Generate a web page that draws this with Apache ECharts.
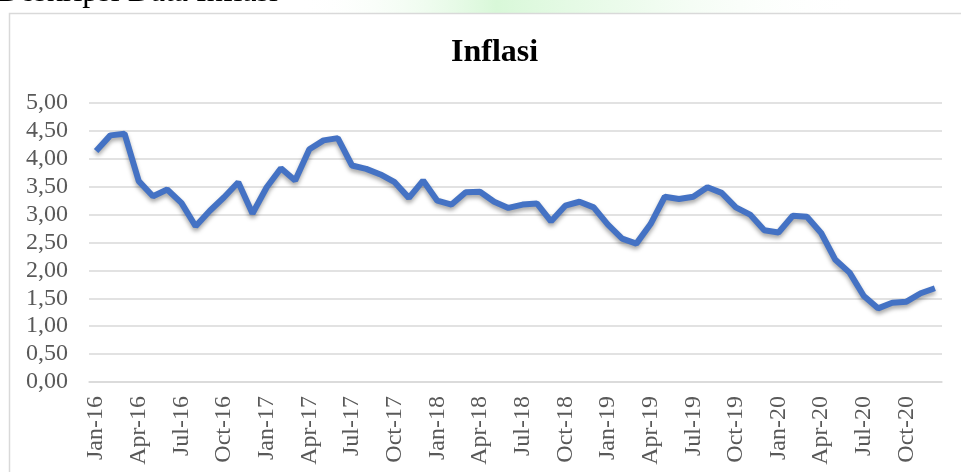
<!DOCTYPE html>
<html>
<head>
<meta charset="utf-8">
<title>Inflasi</title>
<script src="https://cdn.jsdelivr.net/npm/echarts@6/dist/echarts.min.js"></script>
<style>
  html, body { margin: 0; padding: 0; background: #fff; }
  #chart { width: 961px; height: 472px; }
</style>
</head>
<body>
<div id="chart"></div>
<script>
// bulan & tahun untuk label sumbu x
var bulan = ['Jan', 'Feb', 'Mar', 'Apr', 'May', 'Jun', 'Jul', 'Aug', 'Sep', 'Oct', 'Nov', 'Dec'];
var tahun = ['16', '17', '18', '19', '20'];

// inflasi (%) per tahun
var inflasi16 = [4.14, 4.42, 4.45, 3.60, 3.33, 3.45, 3.21, 2.79, 3.07, 3.31, 3.58, 3.02];
var inflasi17 = [3.49, 3.83, 3.61, 4.17, 4.33, 4.37, 3.88, 3.82, 3.72, 3.58, 3.30, 3.61];
var inflasi18 = [3.25, 3.18, 3.40, 3.41, 3.23, 3.12, 3.18, 3.20, 2.88, 3.16, 3.23, 3.13];
var inflasi19 = [2.82, 2.57, 2.48, 2.83, 3.32, 3.28, 3.32, 3.49, 3.39, 3.13, 3.00, 2.72];
var inflasi20 = [2.68, 2.98, 2.96, 2.67, 2.19, 1.96, 1.54, 1.32, 1.42, 1.44, 1.59, 1.68];

var kategori = [];
tahun.forEach(function (t) {
  bulan.forEach(function (b) { kategori.push(b + '-' + t); });
});
var nilai = [].concat(inflasi16, inflasi17, inflasi18, inflasi19, inflasi20);

var myChart = echarts.init(document.getElementById('chart'));
var option = {
  backgroundColor: '#fff',
  animation: false,
  textStyle: { fontFamily: 'Liberation Serif' },
  title: {
    text: 'Inflasi',
    left: 446,
    top: 32,
    textStyle: { fontFamily: 'Liberation Serif', fontSize: 32, fontWeight: 'bold', color: '#000' }
  },
  graphic: [
    {
      type: 'rect', silent: true, z: -1,
      shape: { x: 300, y: 0, width: 560, height: 13 },
      style: {
        fill: new echarts.graphic.LinearGradient(0, 0, 1, 0, [
          { offset: 0, color: 'rgba(255,255,255,0)' },
          { offset: 0.35, color: 'rgba(200,245,200,0.7)' },
          { offset: 0.6, color: 'rgba(220,248,220,0.5)' },
          { offset: 1, color: 'rgba(255,255,255,0)' }
        ])
      }
    },
    {
      type: 'text', silent: true,
      left: -3, top: -23,
      style: { text: 'Deskripsi Data Inflasi', font: '32px "Liberation Serif"', fill: '#000' }
    },
    {
      type: 'rect', silent: true,
      shape: { x: 9.5, y: 13.5, width: 1000, height: 500 },
      style: { fill: 'none', stroke: '#d9d9d9', lineWidth: 1.5 }
    }
  ],
  grid: { left: 89, right: 19, top: 103, bottom: 90, containLabel: false },
  xAxis: {
    type: 'category',
    data: kategori,
    boundaryGap: true,
    axisLine: { show: true, lineStyle: { color: '#d9d9d9', width: 1.5 } },
    axisTick: { show: false },
    axisLabel: {
      interval: 2,
      rotate: 90,
      margin: 14,
      color: '#595959',
      fontSize: 24,
      fontFamily: 'Liberation Serif'
    },
    splitLine: { show: false }
  },
  yAxis: {
    type: 'value',
    min: 0,
    max: 5,
    interval: 0.5,
    axisLine: { show: false },
    axisTick: { show: false },
    axisLabel: {
      margin: 21,
      color: '#595959',
      fontSize: 24,
      fontFamily: 'Liberation Serif',
      formatter: function (v) { return v.toFixed(2).replace('.', ','); }
    },
    splitLine: { lineStyle: { color: '#d9d9d9', width: 1.5 } }
  },
  series: [{
    name: 'Inflasi',
    type: 'line',
    data: nilai,
    showSymbol: false,
    smooth: false,
    lineStyle: {
      color: '#4472C4',
      width: 6,
      shadowColor: 'rgba(0,0,0,0.35)',
      shadowBlur: 4,
      shadowOffsetY: 3
    },
    itemStyle: { color: '#4472C4' }
  }]
};
myChart.setOption(option);
</script>
</body>
</html>
